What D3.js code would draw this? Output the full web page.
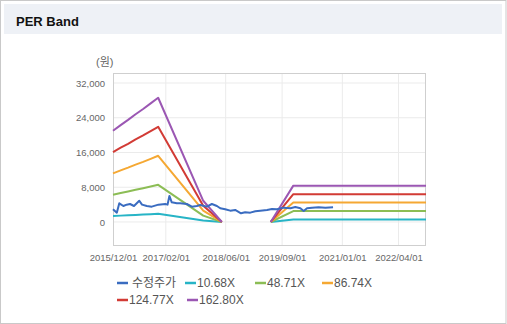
<!DOCTYPE html>
<html>
<head>
<meta charset="utf-8">
<script src="https://cdn.jsdelivr.net/npm/d3@7/dist/d3.min.js"></script>
<style>
  html, body { margin: 0; padding: 0; background: #fff; }
  svg { display: block; }
  text { font-family: "Liberation Sans", Arial, "Noto Sans CJK KR", sans-serif; }
</style>
</head>
<body>
<div id="chart"></div>
<script>
// PER band: adjusted price and price bands at fixed PER multiples
const priceDates = [
  "2015-12-01","2016-01-01","2016-01-21","2016-02-23","2016-03-21","2016-04-17","2016-05-19",
  "2016-07-01","2016-07-23","2016-08-31","2016-10-10","2016-12-03","2017-01-27","2017-02-15",
  "2017-03-02","2017-03-21","2017-05-01","2017-05-28","2017-07-21","2017-08-31","2017-10-10",
  "2017-11-06","2017-12-31","2018-02-09","2018-03-22","2018-04-18","2018-05-28","2018-07-08",
  "2018-08-17","2018-10-03","2018-11-06","2018-12-17","2019-01-27","2019-03-08","2019-05-02",
  "2019-06-11","2019-07-22","2019-09-13","2019-11-07","2019-12-17","2020-01-27","2020-02-23",
  "2020-03-21","2020-05-01","2020-06-23","2020-08-17","2020-10-18"
];
const priceValues = [
  2920, 2150, 4300, 3680, 3990, 4140, 3680,
  4900, 3990, 3680, 3530, 3990, 4140, 3990,
  5990, 4530, 4300, 4300, 4140, 3530, 3680,
  3910, 3530, 4140, 3680, 3150, 2920, 2610,
  2760, 2000, 2230, 2150, 2460, 2610, 2760,
  2990, 2920, 3300, 3150, 3450, 3150, 2530,
  3150, 3300, 3380, 3300, 3380
];

// band dates (null = no band, negative earnings)
const bandDates = [
  "2015-12-01","2016-02-01","2016-04-01","2016-06-01","2016-08-01","2016-10-01","2016-12-01",
  "2017-12-01","2018-05-01","2018-11-01","2019-06-01","2019-12-01","2022-11-10"
];
const band1068 = [1378, 1463, 1541, 1627, 1706, 1791, 1876, 320, 0, null, 0, 550, 550];
const band4871 = [6285, 6675, 7030, 7420, 7780, 8170, 8560, 1460, 0, null, 0, 2500, 2500];
const band8674 = [11190, 11885, 12515, 13210, 13850, 14545, 15240, 2600, 0, null, 0, 4460, 4460];
const band12477 = [16095, 17095, 18005, 19005, 19925, 20925, 21920, 3740, 0, null, 0, 6410, 6410];
const band16280 = [21000, 22300, 23500, 24800, 26000, 27300, 28600, 4880, 0, null, 0, 8370, 8370];

const seriesNames = ["수정주가", "10.68X", "48.71X", "86.74X", "124.77X", "162.80X"];
const seriesColors = ["#3a6cc0", "#27b4c6", "#8cbd55", "#f5a833", "#d23b35", "#9b57b3"];

const yTicks = [0, 8000, 16000, 24000, 32000];
const xTickLabels = ["2015/12/01", "2017/02/01", "2018/06/01", "2019/09/01", "2021/01/01", "2022/04/01"];

const W = 507, H = 324;
const parse = d3.timeParse("%Y-%m-%d");
const parseTick = d3.timeParse("%Y/%m/%d");

const svg = d3.select("#chart").append("svg").attr("width", W).attr("height", H);

// outer frame and header
svg.append("rect").attr("x", 0.5).attr("y", 0.5).attr("width", W - 1.5).attr("height", H - 1)
  .attr("fill", "#fff").attr("stroke", "#c9c9c9");
svg.append("rect").attr("x", 4).attr("y", 4).attr("width", W - 9).attr("height", 30)
  .attr("fill", "#eef1f6");
svg.append("text").attr("x", 16).attr("y", 26).attr("font-size", 13).attr("font-weight", "bold")
  .attr("fill", "#111").text("PER Band");

const plot = { left: 113, right: 426, top: 73, bottom: 245 };

const x = d3.scaleTime()
  .domain([parse("2015-12-01"), parse("2022-11-10")])
  .range([plot.left, plot.right]);
const y = d3.scaleLinear()
  .domain([-5300, 34300])
  .range([plot.bottom, plot.top]);

// grid
const g = svg.append("g");
g.selectAll(".hgrid").data(yTicks).join("line")
  .attr("x1", plot.left).attr("x2", plot.right)
  .attr("y1", d => y(d)).attr("y2", d => y(d))
  .attr("stroke", "#ebebeb");
g.selectAll(".vgrid").data(xTickLabels.slice(1)).join("line")
  .attr("x1", d => x(parseTick(d))).attr("x2", d => x(parseTick(d)))
  .attr("y1", plot.top).attr("y2", plot.bottom)
  .attr("stroke", "#ebebeb");
g.append("rect").attr("x", plot.left + 0.5).attr("y", plot.top + 0.5)
  .attr("width", plot.right - plot.left - 1).attr("height", plot.bottom - plot.top)
  .attr("fill", "none").attr("stroke", "#cfcfcf");

// axes
const yAxis = d3.axisLeft(y).tickValues(yTicks).tickSize(0).tickPadding(8)
  .tickFormat(d3.format(","));
svg.append("g").attr("transform", `translate(${plot.left},0)`).call(yAxis)
  .call(a => a.select(".domain").remove())
  .call(a => a.selectAll("text").attr("font-size", 9.5).attr("fill", "#666")
    .attr("font-family", "Liberation Sans, Arial, sans-serif"));

const xAxis = d3.axisBottom(x).tickValues(xTickLabels.map(parseTick)).tickSize(0).tickPadding(9)
  .tickFormat(d3.timeFormat("%Y/%m/%d"));
svg.append("g").attr("transform", `translate(0,${plot.bottom})`).call(xAxis)
  .call(a => a.select(".domain").remove())
  .call(a => a.selectAll("text").attr("font-size", 9.5).attr("fill", "#666")
    .attr("font-family", "Liberation Sans, Arial, sans-serif"));

svg.append("text").attr("x", 96).attr("y", 66).attr("font-size", 11).attr("fill", "#666")
  .attr("font-family", "Noto Sans CJK KR, sans-serif").text("(원)");

// lines
const line = d3.line()
  .defined(d => d.v !== null)
  .x(d => x(d.t)).y(d => y(d.v));

const bands = [band1068, band4871, band8674, band12477, band16280];
const lineData = [priceDates.map((t, i) => ({ t: parse(t), v: priceValues[i] }))]
  .concat(bands.map(b => bandDates.map((t, i) => ({ t: parse(t), v: b[i] }))));

// draw bands first (largest on top order as in legend) then price
const order = [1, 2, 3, 4, 5, 0];
svg.append("g").selectAll("path").data(order).join("path")
  .attr("d", i => line(lineData[i]))
  .attr("fill", "none")
  .attr("stroke", i => seriesColors[i])
  .attr("stroke-width", 2)
  .attr("stroke-linejoin", "round");

// legend
const legendPos = [[117, 283], [185, 283], [255, 283], [322, 283], [117, 300], [187, 300]];
const lg = svg.append("g").selectAll("g").data(seriesNames).join("g")
  .attr("transform", (d, i) => `translate(${legendPos[i][0]},${legendPos[i][1]})`);
lg.append("line").attr("x1", 0).attr("x2", 11).attr("y1", 0).attr("y2", 0)
  .attr("stroke", (d, i) => seriesColors[i]).attr("stroke-width", 2.5);
lg.append("text").attr("x", (d, i) => i === 0 ? 15 : 12).attr("y", 0).attr("dy", "0.35em")
  .attr("font-size", 12).attr("fill", "#555")
  .attr("font-family", (d, i) => i === 0 ? "Noto Sans CJK KR, sans-serif" : "Liberation Sans, Arial, sans-serif")
  .text(d => d);
</script>
</body>
</html>
